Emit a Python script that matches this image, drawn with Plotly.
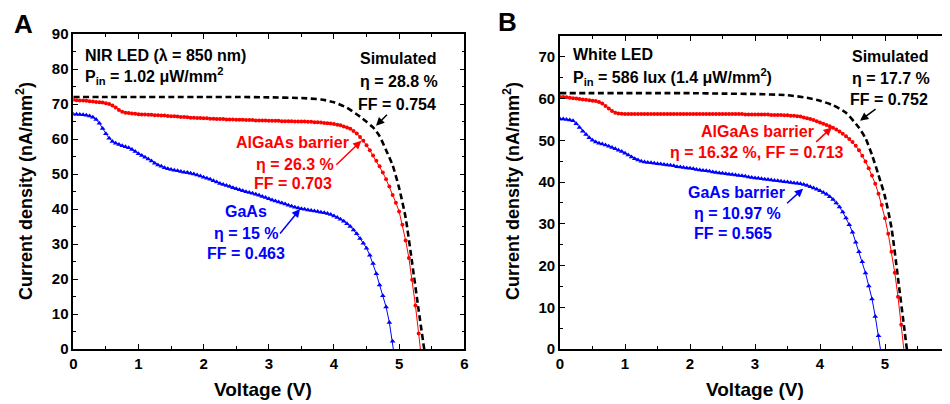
import plotly.graph_objects as go

# ---------------- data ----------------
VOLT = [0.00, 0.05, 0.10, 0.15, 0.20, 0.25, 0.30, 0.35, 0.40, 0.45,
        0.50, 0.55, 0.60, 0.65, 0.70, 0.75, 0.80, 0.85, 0.90, 0.95,
        1.00, 1.05, 1.10, 1.15, 1.20, 1.25, 1.30, 1.35, 1.40, 1.45,
        1.50, 1.55, 1.60, 1.65, 1.70, 1.75, 1.80, 1.85, 1.90, 1.95,
        2.00, 2.05, 2.10, 2.15, 2.20, 2.25, 2.30, 2.35, 2.40, 2.45,
        2.50, 2.55, 2.60, 2.65, 2.70, 2.75, 2.80, 2.85, 2.90, 2.95,
        3.00, 3.05, 3.10, 3.15, 3.20, 3.25, 3.30, 3.35, 3.40, 3.45,
        3.50, 3.55, 3.60, 3.65, 3.70, 3.75, 3.80, 3.85, 3.90, 3.95,
        4.00, 4.05, 4.10, 4.15, 4.20, 4.25, 4.30, 4.35, 4.40, 4.45,
        4.50, 4.55, 4.60, 4.65, 4.70, 4.75, 4.80, 4.85, 4.90, 4.95,
        5.00, 5.05, 5.10, 5.15, 5.20, 5.25, 5.30, 5.35]

# Panel A: NIR LED
A_ALGAAS = [71.2, 71.1, 71.0, 71.0, 70.9, 70.8, 70.7, 70.6, 70.5, 70.4,
            70.2, 70.0, 69.6, 69.0, 68.3, 67.8, 67.5, 67.4, 67.3, 67.2,
            67.1, 67.0, 67.0, 66.9, 66.9, 66.8, 66.8, 66.7, 66.7, 66.6,
            66.5, 66.5, 66.4, 66.3, 66.3, 66.2, 66.1, 66.1, 66.0, 66.0,
            65.9, 65.9, 65.8, 65.8, 65.7, 65.7, 65.7, 65.6, 65.6, 65.6,
            65.5, 65.5, 65.5, 65.4, 65.4, 65.4, 65.3, 65.3, 65.3, 65.3,
            65.2, 65.2, 65.2, 65.2, 65.1, 65.1, 65.1, 65.1, 65.0, 65.0,
            65.0, 65.0, 64.9, 64.9, 64.8, 64.8, 64.7, 64.6, 64.5, 64.4,
            64.3, 64.1, 63.9, 63.6, 63.3, 62.9, 62.3, 61.6, 60.6, 59.5,
            58.2, 56.8, 55.3, 53.8, 52.2, 50.4, 48.5, 46.4, 44.0, 41.8,
            39.3, 35.5, 31.0, 26.0, 19.8, 12.4, 4.4, -4.0]
A_GAAS = [67.1, 67.1, 67.0, 66.9, 66.8, 66.6, 66.2, 65.6, 64.5, 63.0,
          61.5, 60.2, 59.3, 58.8, 58.4, 58.1, 57.8, 57.5, 57.0, 56.4,
          55.8, 55.3, 54.8, 54.3, 53.7, 53.1, 52.6, 52.2, 51.8, 51.5,
          51.3, 51.1, 50.9, 50.7, 50.5, 50.4, 50.2, 50.0, 49.7, 49.4,
          49.1, 48.8, 48.5, 48.1, 47.7, 47.3, 47.0, 46.7, 46.4, 46.1,
          45.8, 45.5, 45.2, 44.9, 44.7, 44.5, 44.2, 43.9, 43.6, 43.3,
          42.9, 42.6, 42.3, 42.0, 41.7, 41.4, 41.1, 40.8, 40.5, 40.3,
          40.1, 39.9, 39.7, 39.6, 39.4, 39.3, 39.1, 38.9, 38.7, 38.4,
          38.0, 37.6, 37.1, 36.5, 35.8, 35.0, 34.0, 32.9, 31.6, 30.2,
          28.8, 26.8, 24.4, 21.5, 18.3, 15.2, 12.0, 7.6, 2.2, -5.0]
A_SIM_V = [0.0, 0.5, 1.0, 1.5, 2.0, 2.5, 3.0, 3.5, 3.8, 4.0, 4.2,
           4.4, 4.5, 4.6, 4.7, 4.8, 4.9, 5.0, 5.1, 5.2, 5.3, 5.4]
A_SIM_J = [72.0, 72.0, 72.0, 72.0, 72.0, 72.0, 71.9, 71.7, 71.3, 70.5, 68.9,
           66.4, 64.9, 63.3, 60.8, 56.8, 52.5, 46.0, 37.5, 24.5, 11.0, -2.0]

# Panel B: White LED
B_ALGAAS = [60.4, 60.4, 60.3, 60.2, 60.1, 60.0, 59.9, 59.8, 59.7, 59.6,
            59.5, 59.4, 59.2, 58.8, 58.2, 57.6, 57.0, 56.6, 56.4, 56.35,
            56.3, 56.3, 56.3, 56.3, 56.3, 56.3, 56.3, 56.3, 56.3, 56.3,
            56.3, 56.3, 56.3, 56.3, 56.3, 56.3, 56.3, 56.3, 56.3, 56.3,
            56.3, 56.3, 56.3, 56.3, 56.3, 56.3, 56.3, 56.3, 56.3, 56.3,
            56.3, 56.3, 56.3, 56.3, 56.3, 56.3, 56.3, 56.2, 56.2, 56.2,
            56.2, 56.2, 56.2, 56.2, 56.2, 56.1, 56.1, 56.1, 56.1, 56.0,
            56.0, 55.9, 55.9, 55.8, 55.7, 55.5, 55.3, 55.1, 54.9, 54.6,
            54.3, 54.0, 53.7, 53.4, 53.0, 52.6, 52.1, 51.6, 51.0, 50.3,
            49.6, 48.7, 47.6, 46.3, 44.9, 43.3, 41.6, 39.6, 37.2, 34.5,
            31.3, 27.6, 23.3, 18.3, 12.5, 5.8, -1.5]
B_GAAS = [55.1, 55.1, 55.0, 54.9, 54.7, 54.0, 53.1, 52.2, 51.4, 50.6,
          50.0, 49.6, 49.3, 49.1, 48.9, 48.6, 48.3, 48.0, 47.6, 47.3,
          46.9, 46.5, 46.0, 45.6, 45.3, 45.0, 44.8, 44.7, 44.6, 44.5,
          44.4, 44.3, 44.2, 44.1, 44.0, 43.9, 43.7, 43.6, 43.5, 43.4,
          43.3, 43.2, 43.0, 42.9, 42.8, 42.7, 42.6, 42.4, 42.3, 42.2,
          42.1, 42.0, 41.9, 41.8, 41.7, 41.6, 41.5, 41.4, 41.2, 41.1,
          41.0, 40.9, 40.8, 40.7, 40.6, 40.5, 40.4, 40.3, 40.2, 40.1,
          40.0, 39.9, 39.8, 39.7, 39.6, 39.4, 39.2, 38.9, 38.6, 38.3,
          37.9, 37.5, 37.1, 36.5, 35.8, 35.0, 34.0, 32.8, 31.4, 29.8,
          28.0, 25.6, 23.3, 20.9, 18.2, 15.1, 12.0, 7.8, 3.2, -2.0]
B_SIM_V = [0.0, 0.5, 1.0, 1.5, 2.0, 2.5, 3.0, 3.5, 3.8, 4.0, 4.2,
           4.4, 4.6, 4.7, 4.8, 4.9, 5.0, 5.1, 5.2, 5.3, 5.4]
B_SIM_J = [61.3, 61.3, 61.3, 61.3, 61.3, 61.2, 61.1, 60.8, 60.2, 59.5, 58.4,
           56.6, 53.0, 50.5, 46.5, 41.7, 36.5, 29.0, 17.0, 4.5, -8.0]

X_TICKS = [0, 1, 2, 3, 4, 5, 6]
A_Y_TICKS = [0, 10, 20, 30, 40, 50, 60, 70, 80, 90]
B_Y_TICKS = [0, 10, 20, 30, 40, 50, 60, 70]

# ---------------- styling ----------------
RED = "#ff0000"
BLUE = "#0000ff"
FONT = "Liberation Sans, Arial, sans-serif"
OFF = 8                      # page body margin of the browser
W, H = 950 - OFF, 404 - OFF
MT, MB = 34 - OFF, 55
PH = H - MT - MB


def px_x(px):
    return (px - OFF) / W


def px_y(py):
    return (H - MB - (py - OFF)) / PH


fig = go.Figure()


def add_panel(xa, ya, red, blue, simv, simj):
    fig.add_trace(go.Scatter(
        x=simv, y=simj, xaxis=xa, yaxis=ya, mode="lines",
        line=dict(color="black", width=2.6, dash="6px,3.5px", shape="spline", smoothing=0.6),
        showlegend=False, hoverinfo="skip"))
    fig.add_trace(go.Scatter(
        x=VOLT[:len(red)], y=red, xaxis=xa, yaxis=ya, mode="lines+markers",
        line=dict(color=RED, width=1), marker=dict(symbol="circle", size=4, color=RED),
        showlegend=False))
    fig.add_trace(go.Scatter(
        x=VOLT[:len(blue)], y=blue, xaxis=xa, yaxis=ya, mode="lines+markers",
        line=dict(color=BLUE, width=1), marker=dict(symbol="triangle-up", size=5, color=BLUE),
        showlegend=False))


add_panel("x", "y", A_ALGAAS, A_GAAS, A_SIM_V, A_SIM_J)
add_panel("x2", "y2", B_ALGAAS, B_GAAS, B_SIM_V, B_SIM_J)

tickfont = dict(family=FONT, size=15, color="black", weight="bold")
axis_base = dict(showline=True, linecolor="black", linewidth=1.6, mirror="ticks",
                 ticks="inside", ticklen=5, tickwidth=1.3, tickcolor="black",
                 showgrid=False, zeroline=False, tickfont=tickfont, automargin=False)


def minor(step):
    return dict(dtick=step, ticks="inside", ticklen=3, tickwidth=1.1, tickcolor="black")


fig.update_layout(
    width=W, height=H, margin=dict(l=0, r=0, t=MT, b=MB),
    paper_bgcolor="white", plot_bgcolor="white",
    xaxis=dict(domain=[px_x(73.3), px_x(464.3)], range=[0, 6], tickvals=X_TICKS,
               minor=minor(0.5), anchor="y", **axis_base),
    yaxis=dict(domain=[0, 1], range=[0, 90], tickvals=A_Y_TICKS,
               minor=minor(5), anchor="x", **axis_base),
    xaxis2=dict(domain=[px_x(560), 1.0], range=[0, 6], tickvals=X_TICKS,
                minor=minor(0.5), anchor="y2", **axis_base),
    yaxis2=dict(domain=[0, px_y(36)], range=[0, 75], tickvals=B_Y_TICKS,
                minor=minor(5), anchor="x2", **axis_base),
)

ann = []


def txt(text, x, y, xref, yref, color="black", size=16, xanchor="center", angle=0):
    ann.append(dict(text=text, x=x, y=y, xref=xref, yref=yref, showarrow=False,
                    xanchor=xanchor, yanchor="middle", textangle=angle,
                    font=dict(family=FONT, size=size, color=color, weight="bold")))


def arrow_txt(text, x, y, ax, ay, xref, yref, color, xanchor="auto", yanchor="auto"):
    # text sits at the arrow tail; the arrow points at (x, y)
    ann.append(dict(text=text, x=x, y=y, xref=xref, yref=yref, ax=ax, ay=ay,
                    showarrow=True, arrowhead=2, arrowsize=1.1, arrowwidth=1.5,
                    arrowcolor=color, xanchor=xanchor, yanchor=yanchor,
                    font=dict(family=FONT, size=16, color=color, weight="bold")))


# Panel A texts
txt("NIR LED (λ = 850 nm)", 0.154, 83.8, "x", "y", xanchor="left")
txt("P<sub>in</sub> = 1.02 μW/mm<sup>2</sup>", 0.154, 78.0, "x", "y", xanchor="left")
txt("Simulated", 4.373, 82.9, "x", "y", xanchor="left")
txt("η = 28.8 %", 4.373, 76.4, "x", "y", xanchor="left")
arrow_txt("FF = 0.754", 4.645, 63.8, 21, -21, "x", "y", "black")
txt("AlGaAs barrier", 3.37, 59.0, "x", "y", color=RED)
arrow_txt("η = 26.3 %", 4.42, 59.5, -25, 24, "x", "y", RED, xanchor="right", yanchor="middle")
txt("FF = 0.703", 3.37, 47.3, "x", "y", color=RED)
txt("GaAs", 2.65, 39.4, "x", "y", color=BLUE)
arrow_txt("η = 15 %", 3.48, 40.0, -20, 24.5, "x", "y", BLUE, xanchor="right", yanchor="middle")
txt("FF = 0.463", 2.65, 27.2, "x", "y", color=BLUE)

# Panel B texts
txt("White LED", 0.165, 70.6, "x2", "y2", xanchor="left")
txt("P<sub>in</sub> = 586 lux (1.4 μW/mm<sup>2</sup>)", 0.165, 65.2, "x2", "y2", xanchor="left")
txt("Simulated", 4.46, 70.2, "x2", "y2", xanchor="left")
txt("η = 17.7 %", 4.46, 64.7, "x2", "y2", xanchor="left")
arrow_txt("FF = 0.752", 4.615, 54.7, 29, -21.6, "x2", "y2", "black")
arrow_txt("AlGaAs barrier", 4.18, 53.1, -15.5, 14.5, "x2", "y2", RED, xanchor="right", yanchor="bottom")
txt("η = 16.32 %, FF = 0.713", 3.03, 47.1, "x2", "y2", color=RED)
arrow_txt("GaAs barrier", 3.74, 38.4, -16, 14.5, "x2", "y2", BLUE, xanchor="right", yanchor="bottom")
txt("η = 10.97 %", 2.026, 32.4, "x2", "y2", color=BLUE, xanchor="left")
txt("FF = 0.565", 2.026, 27.7, "x2", "y2", color=BLUE, xanchor="left")

# Axis titles and panel letters
txt("Voltage (V)", px_x(263), px_y(389), "paper", "paper", size=19)
txt("Voltage (V)", px_x(755), px_y(389), "paper", "paper", size=19)
txt("Current density (nA/mm<sup>2</sup>)", px_x(24), px_y(191), "paper", "paper", size=18, angle=-90)
txt("Current density (nA/mm<sup>2</sup>)", px_x(511), px_y(191), "paper", "paper", size=18, angle=-90)
txt("A", px_x(23), px_y(24), "paper", "paper", size=26)
txt("B", px_x(507), px_y(22.5), "paper", "paper", size=26)

fig.update_layout(annotations=ann)
fig.write_html("out.html")
